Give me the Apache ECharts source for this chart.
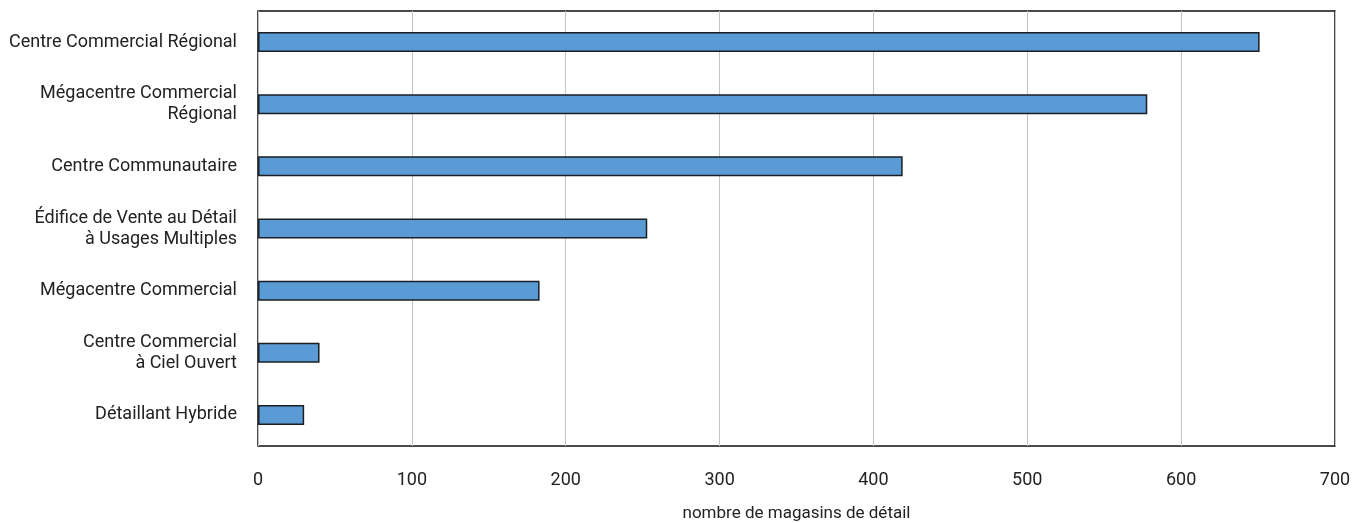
<!DOCTYPE html>
<html>
<head>
<meta charset="utf-8">
<script src="https://cdn.jsdelivr.net/npm/echarts@6/dist/echarts.min.js"></script>
<style>
  html, body { margin: 0; padding: 0; background: #fff; }
  #chart { width: 1354px; height: 523px; }
</style>
</head>
<body>
<div id="chart"></div>
<script>
// Store types, top to bottom
const categories = [
  'Centre Commercial Régional',
  'Mégacentre Commercial\nRégional',
  'Centre Communautaire',
  'Édifice de Vente au Détail\nà Usages Multiples',
  'Mégacentre Commercial',
  'Centre Commercial\nà Ciel Ouvert',
  'Détaillant Hybride'
];
// Number of retail stores per store type
const storeCounts = [651, 578, 419, 253, 183, 40, 30];
const axisTitle = 'nombre de magasins de détail';

const FONT = 'Roboto, "Liberation Sans", Arial, sans-serif';

const chart = echarts.init(document.getElementById('chart'), null, { renderer: 'canvas' });
chart.setOption({
  animation: false,
  backgroundColor: '#ffffff',
  grid: {
    left: 258, right: 19, top: 11, bottom: 77,
    outerBoundsMode: 'none',
    containLabel: false,
    show: true, borderColor: '#111', borderWidth: 1.5, backgroundColor: 'transparent'
  },
  xAxis: {
    type: 'value',
    min: 0, max: 700, interval: 100,
    name: axisTitle,
    nameLocation: 'middle',
    nameGap: 59,
    nameTextStyle: { fontFamily: FONT, fontSize: 17, color: '#222' },
    axisLine: { show: false },
    axisTick: { show: false },
    axisLabel: { margin: 25, fontFamily: FONT, fontSize: 18, color: '#222' },
    splitLine: { show: true, lineStyle: { color: '#c4c4c4', width: 1 } }
  },
  yAxis: {
    type: 'category',
    data: categories,
    inverse: true,
    axisLine: { show: false },
    axisTick: { show: false },
    axisLabel: {
      margin: 21, fontFamily: FONT, fontSize: 18, color: '#222',
      lineHeight: 21, align: 'right'
    },
    splitLine: { show: false }
  },
  series: [{
    type: 'bar',
    data: storeCounts,
    barWidth: 20,
    itemStyle: { color: '#5b9bd5', borderColor: '#1b1f24', borderWidth: 1.5 }
  }]
});
</script>
</body>
</html>
